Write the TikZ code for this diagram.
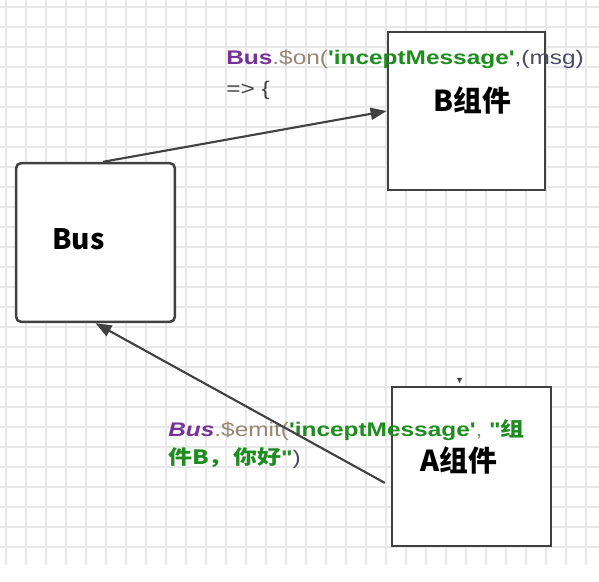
\documentclass[tikz,border=0pt]{standalone}
\usepackage{fontspec}
\setmainfont{Liberation Sans}[Ligatures=TeXOff]
\newfontfamily\codefont{Liberation Sans}[FakeStretch=1.24, Ligatures=TeXOff]
\newfontfamily\codecjk{Noto Sans CJK SC}[FakeStretch=1.22]
\newfontfamily\boxfont{Noto Sans CJK SC}
\usetikzlibrary{arrows.meta, positioning, calc}

\definecolor{busPurple}{RGB}{118,50,150}
\definecolor{callGray}{RGB}{150,135,115}
\definecolor{strGreen}{RGB}{30,140,30}
\definecolor{argGray}{RGB}{75,75,100}
\definecolor{lineGray}{RGB}{65,65,65}
\definecolor{gridGray}{RGB}{232,232,232}

\begin{document}
\begin{tikzpicture}[x=0.025cm, y=-0.025cm,
  box/.style={draw=lineGray, line width=1.8pt, fill=white, minimum width=3.97cm, minimum height=3.97cm, inner sep=0pt},
  boxtext/.style={font=\boxfont\bfseries\fontsize{20.5}{22}\selectfont, anchor=base west, inner sep=0pt},
  link/.style={draw=lineGray, line width=1.5pt, -{Triangle[length=4mm,width=3mm]}},
  code/.style={font=\codefont\fontsize{14}{18}\selectfont, anchor=base west, inner sep=0pt},
  gridline/.style={draw=gridGray, line width=0.9pt}]
  \useasboundingbox[fill=white] (0,0) rectangle (599,582);

  % grille de fond
  \foreach \gx in {6,26,...,596} \draw[gridline] (\gx,0) -- (\gx,565);
  \foreach \gy in {7,27,...,547} \draw[gridline] (0,\gy) -- (599,\gy);

  % boites
  \node[box, rounded corners=1.3mm] (bus) at (95.5,242.5) {};
  \node[box, minimum width=3.93cm, minimum height=3.95cm] (compB) at (466.5,111) {};
  \node[box] (compA) at (471.5,466.5) {};
  \node[boxtext, font=\boxfont\bfseries\fontsize{20}{22}\selectfont] (busText) at (52,250) {Bus};
  \node[boxtext] (compBText) at (433,112) {B组件};
  \node[boxtext] (compAText) at (420,472) {A组件};
  \fill[lineGray] (457,378) -- (462,378) -- (459.5,383) -- cycle;

  % ecoute ($on)
  \node[code] (onLine) at (226,65)
    {\textcolor{busPurple}{\bfseries Bus}\textcolor{callGray}{.\$on(}\textcolor{strGreen}{\bfseries 'inceptMessage'}\textcolor{argGray}{,(msg)}};
  \node[code, text=lineGray] (onBrace) at (226,96) {=> \{};

  % emission ($emit)
  \node[code] (emitLine) at (168,437)
    {\textcolor{busPurple}{\bfseries\itshape Bus}\textcolor{callGray}{.\$emit(}\textcolor{strGreen}{\bfseries 'inceptMessage'}\textcolor{callGray}{, }\textcolor{strGreen}{\bfseries "{\codecjk\bfseries 组}}};
  \node[code] (emitArgs) at (168,465)
    {\textcolor{strGreen}{\codecjk\bfseries 件B，你好}\textcolor{strGreen}{\bfseries "}\textcolor{argGray}{)}};

  % fleches
  \draw[link] ([xshift=0.19cm]bus.north) -- (compB.west);
  \draw[link] ([xshift=-0.15cm, yshift=-0.41cm]compA.west) -- (bus.south);
\end{tikzpicture}
\end{document}
